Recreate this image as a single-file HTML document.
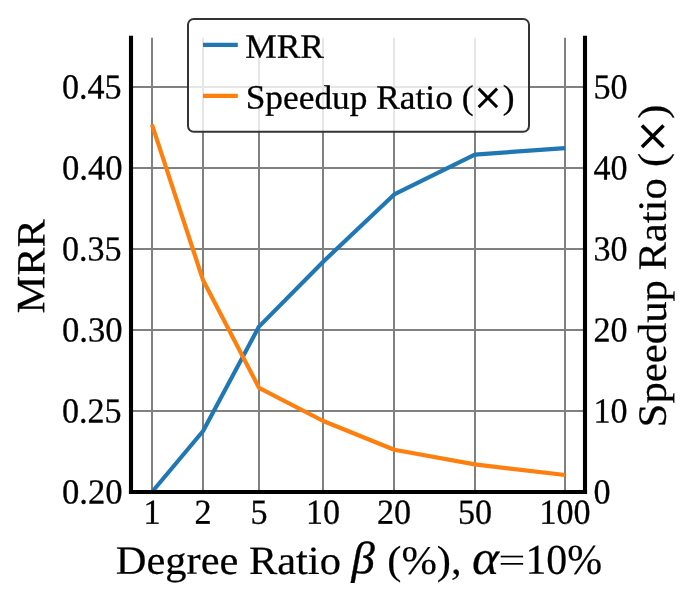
<!DOCTYPE html>
<html>
<head>
<meta charset="utf-8">
<title>MRR vs Speedup Ratio</title>
<style>
  html, body { margin: 0; padding: 0; background: #ffffff; }
  body { width: 690px; height: 600px; overflow: hidden; font-family: "Liberation Serif", serif; }
  svg { display: block; will-change: transform; }
  text { font-family: "Liberation Serif", serif; fill: #000; stroke-linejoin: round; }
</style>
</head>
<body>
<svg width="690" height="600" viewBox="0 0 690 600">
  <rect x="0" y="0" width="690" height="600" fill="#ffffff"/>

  <!-- grid -->
  <g stroke="#808080" stroke-width="2" fill="none">
    <line x1="152" y1="37.8" x2="152" y2="492"/>
    <line x1="203" y1="37.8" x2="203" y2="492"/>
    <line x1="259" y1="37.8" x2="259" y2="492"/>
    <line x1="323" y1="37.8" x2="323" y2="492"/>
    <line x1="394" y1="37.8" x2="394" y2="492"/>
    <line x1="475" y1="37.8" x2="475" y2="492"/>
    <line x1="565" y1="37.8" x2="565" y2="492"/>
    <line x1="131" y1="411" x2="585" y2="411"/>
    <line x1="131" y1="330" x2="585" y2="330"/>
    <line x1="131" y1="249" x2="585" y2="249"/>
    <line x1="131" y1="168" x2="585" y2="168"/>
    <line x1="131" y1="87" x2="585" y2="87"/>
  </g>

  <!-- data lines -->
  <polyline fill="none" stroke="#1f77b4" stroke-width="4.17" stroke-linejoin="round" points="152,492.0 203.1,431.0 259,326.6 323.2,261.7 394.2,194.4 474.8,154.6 565,148.1"/>
  <polyline fill="none" stroke="#ff7f0e" stroke-width="4.17" stroke-linejoin="round" points="152,124.6 203.1,280.3 259,387.8 323.2,421.0 394.2,449.8 474.8,464.4 565,475.0"/>

  <!-- spines -->
  <g stroke="#000000" stroke-width="4.1" fill="none">
    <line x1="131" y1="35.8" x2="131" y2="494.05"/>
    <line x1="585" y1="35.8" x2="585" y2="494.05"/>
    <line x1="128.95" y1="492" x2="587.05" y2="492"/>
  </g>

  <!-- left tick labels -->
  <text transform="translate(122.6,503.5) rotate(0.05) scale(0.9845,1)" text-anchor="end" font-size="35.2" stroke="#000" stroke-width="0.3">0.20</text>
  <text transform="translate(121.6,422.5) rotate(0.05) scale(0.968,1)" text-anchor="end" font-size="35.2" stroke="#000" stroke-width="0.3">0.25</text>
  <text transform="translate(122.6,341.5) rotate(0.05) scale(0.9845,1)" text-anchor="end" font-size="35.2" stroke="#000" stroke-width="0.3">0.30</text>
  <text transform="translate(121.6,260.5) rotate(0.05) scale(0.968,1)" text-anchor="end" font-size="35.2" stroke="#000" stroke-width="0.3">0.35</text>
  <text transform="translate(122.6,179.5) rotate(0.05) scale(0.9845,1)" text-anchor="end" font-size="35.2" stroke="#000" stroke-width="0.3">0.40</text>
  <text transform="translate(121.6,98.5) rotate(0.05) scale(0.968,1)" text-anchor="end" font-size="35.2" stroke="#000" stroke-width="0.3">0.45</text>
  <!-- right tick labels -->
  <text transform="translate(593.4,503.5) rotate(0.05) scale(0.968,1)" text-anchor="start" font-size="35.2" stroke="#000" stroke-width="0.3">0</text>
  <text transform="translate(593.4,422.5) rotate(0.05) scale(0.968,1)" text-anchor="start" font-size="35.2" stroke="#000" stroke-width="0.3">10</text>
  <text transform="translate(593.4,341.5) rotate(0.05) scale(0.968,1)" text-anchor="start" font-size="35.2" stroke="#000" stroke-width="0.3">20</text>
  <text transform="translate(593.4,260.5) rotate(0.05) scale(0.968,1)" text-anchor="start" font-size="35.2" stroke="#000" stroke-width="0.3">30</text>
  <text transform="translate(593.4,179.5) rotate(0.05) scale(0.968,1)" text-anchor="start" font-size="35.2" stroke="#000" stroke-width="0.3">40</text>
  <text transform="translate(593.4,98.5) rotate(0.05) scale(0.968,1)" text-anchor="start" font-size="35.2" stroke="#000" stroke-width="0.3">50</text>
  <!-- bottom tick labels -->
  <text transform="translate(152,523.7) rotate(0.05) scale(0.968,1)" text-anchor="middle" font-size="35.2" stroke="#000" stroke-width="0.3">1</text>
  <text transform="translate(203,523.7) rotate(0.05) scale(0.968,1)" text-anchor="middle" font-size="35.2" stroke="#000" stroke-width="0.3">2</text>
  <text transform="translate(259,523.7) rotate(0.05) scale(0.968,1)" text-anchor="middle" font-size="35.2" stroke="#000" stroke-width="0.3">5</text>
  <text transform="translate(323,523.7) rotate(0.05) scale(0.968,1)" text-anchor="middle" font-size="35.2" stroke="#000" stroke-width="0.3">10</text>
  <text transform="translate(394,523.7) rotate(0.05) scale(0.968,1)" text-anchor="middle" font-size="35.2" stroke="#000" stroke-width="0.3">20</text>
  <text transform="translate(475,523.7) rotate(0.05) scale(0.968,1)" text-anchor="middle" font-size="35.2" stroke="#000" stroke-width="0.3">50</text>
  <text transform="translate(565,523.7) rotate(0.05) scale(0.968,1)" text-anchor="middle" font-size="35.2" stroke="#000" stroke-width="0.3">100</text>

  <!-- axis labels -->
  <text transform="translate(44.4,266.3) rotate(-89.95) scale(1.056,1)" text-anchor="middle" font-size="40.2" stroke="#000" stroke-width="0.2">MRR</text>
  <text transform="translate(115.8,573.8) rotate(0.05) scale(1.056,1)" text-anchor="start" font-size="40.2" stroke="#000" stroke-width="0.2">Degree Ratio</text>
  <text transform="translate(351.6,573.3) rotate(0.05) scale(1.03,1)" font-style="italic" font-size="45.3" stroke="#000" stroke-width="0.35">β</text>
  <text transform="translate(387.3,573.8) rotate(0.05) scale(1.056,1)" text-anchor="start" font-size="40.2" stroke="#000" stroke-width="0.2">(%),</text>
  <text transform="translate(471.9,574) rotate(0.05) scale(1.05,1)" font-style="italic" font-size="49" stroke="#000" stroke-width="0.2">α</text>
  <rect x="500.7" y="555.7" width="22.4" height="1.7"/>
  <rect x="500.7" y="563.0" width="22.4" height="1.7"/>
  <text transform="translate(525.4,573.8) rotate(0.05) scale(0.985,1)" text-anchor="start" font-size="42.5" stroke="#000" stroke-width="0.2">10%</text>

  <!-- right y label -->
  <g transform="translate(665.8,427.4) rotate(-90)">
    <text transform="translate(0,0) rotate(0.05) scale(1.065,1)" text-anchor="start" font-size="40.2" stroke="#000" stroke-width="0.2">Speedup</text>
    <text transform="translate(156.8,0) rotate(0.05) scale(1.06,1)" text-anchor="start" font-size="40.2" stroke="#000" stroke-width="0.2">Ratio</text>
    <text transform="translate(260.5,0) rotate(0.05) scale(1.056,1)" text-anchor="start" font-size="40.2" stroke="#000" stroke-width="0.2">(</text>
    <path transform="translate(273.3,0.3) scale(0.0208,-0.0208)" d="M1436 1100 979 641 1436 184 1317 63 858 522 399 63 281 184 737 641 281 1100 399 1221 858 762 1317 1221Z"/>
    <text transform="translate(308.6,0) rotate(0.05) scale(1.056,1)" text-anchor="start" font-size="40.2" stroke="#000" stroke-width="0.2">)</text>
  </g>

  <!-- legend -->
  <rect x="188" y="18.9" width="341" height="112.9" rx="5.8" ry="5.8" fill="#ffffff" fill-opacity="0.8" stroke="#333333" stroke-width="2"/>
  <line x1="203" y1="44.9" x2="237.8" y2="44.9" stroke="#1f77b4" stroke-width="4.17"/>
  <line x1="203" y1="95.8" x2="237.8" y2="95.8" stroke="#ff7f0e" stroke-width="4.17"/>
  <text transform="translate(245.2,57.7) rotate(0.05) scale(1.04,1)" text-anchor="start" font-size="34.0" stroke="#000" stroke-width="0.3">MRR</text>
  <text transform="translate(245.7,108.6) rotate(0.05) scale(1.04,1)" text-anchor="start" font-size="34.0" stroke="#000" stroke-width="0.3">Speedup Ratio (</text>
  <path transform="translate(472.6,109.3) scale(0.0178,-0.0178)" d="M1436 1100 979 641 1436 184 1317 63 858 522 399 63 281 184 737 641 281 1100 399 1221 858 762 1317 1221Z"/>
  <text transform="translate(502.8,108.6) rotate(0.05) scale(1.04,1)" text-anchor="start" font-size="34.0" stroke="#000" stroke-width="0.3">)</text>
</svg>
</body>
</html>
